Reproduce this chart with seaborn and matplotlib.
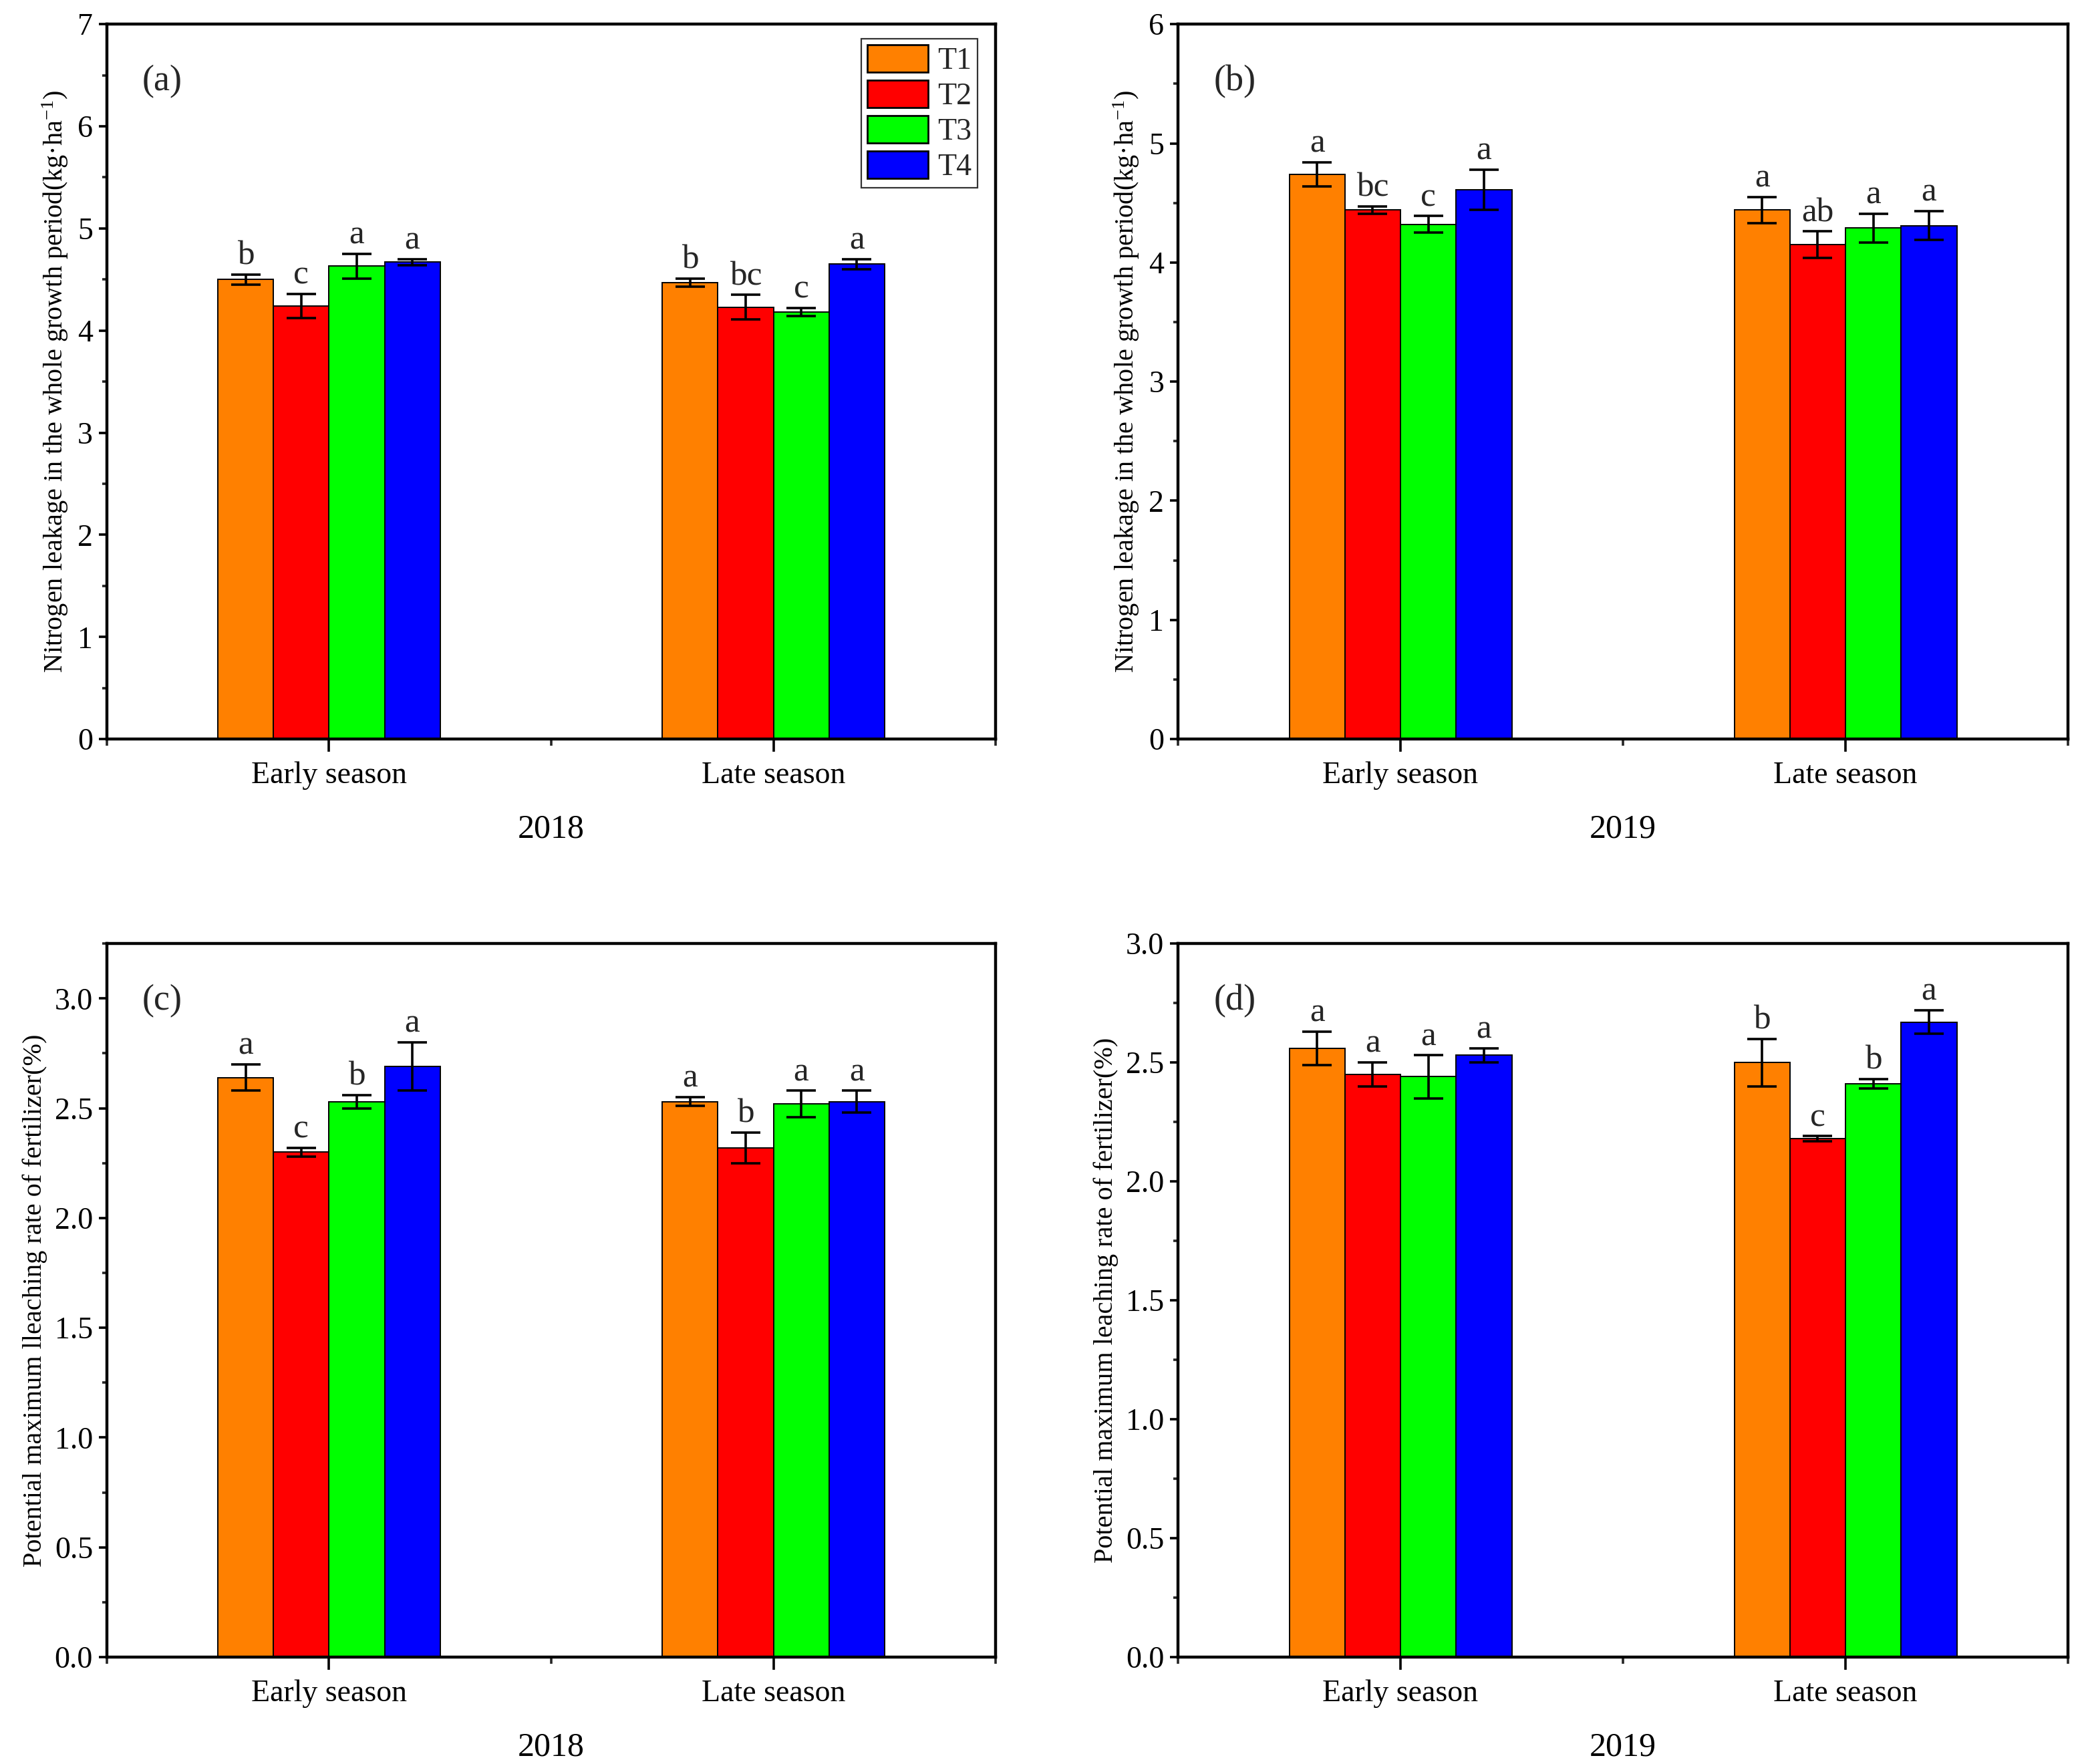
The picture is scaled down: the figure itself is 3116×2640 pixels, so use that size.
"""
Nitrogen leakage and potential maximum leaching rate, 2018 / 2019
grouped bars with error bars and significance letters
"""

import pandas as pd
import numpy as np
import matplotlib
matplotlib.use("Agg")
import matplotlib.pyplot as plt
from matplotlib.ticker import MultipleLocator, FixedLocator
import seaborn as sns

# Data
seasons = ["Early season", "Late season"]
treatments = ["T1", "T2", "T3", "T4"]
colors = ["#FF8000", "#FF0000", "#00FF00", "#0000FF"]

# (a) nitrogen leakage 2018
a_early = [4.50, 4.24, 4.63, 4.67]
a_late = [4.47, 4.23, 4.18, 4.65]
a_early_err = [0.05, 0.12, 0.12, 0.03]
a_late_err = [0.04, 0.12, 0.04, 0.05]
a_early_let = ["b", "c", "a", "a"]
a_late_let = ["b", "bc", "c", "a"]

# (b) nitrogen leakage 2019
b_early = [4.74, 4.44, 4.32, 4.61]
b_late = [4.44, 4.15, 4.29, 4.31]
b_early_err = [0.10, 0.03, 0.07, 0.17]
b_late_err = [0.11, 0.11, 0.12, 0.12]
b_early_let = ["a", "bc", "c", "a"]
b_late_let = ["a", "ab", "a", "a"]

# (c) leaching rate 2018
c_early = [2.64, 2.30, 2.53, 2.69]
c_late = [2.53, 2.32, 2.52, 2.53]
c_early_err = [0.06, 0.02, 0.03, 0.11]
c_late_err = [0.02, 0.07, 0.06, 0.05]
c_early_let = ["a", "c", "b", "a"]
c_late_let = ["a", "b", "a", "a"]

# (d) leaching rate 2019
d_early = [2.56, 2.45, 2.44, 2.53]
d_late = [2.50, 2.18, 2.41, 2.67]
d_early_err = [0.07, 0.05, 0.09, 0.03]
d_late_err = [0.10, 0.01, 0.02, 0.05]
d_early_let = ["a", "a", "a", "a"]
d_late_let = ["b", "c", "b", "a"]

n_label = r"Nitrogen leakage in the whole growth period(kg·ha$\mathregular{^{-1}}$)"
panels = [
    dict(tag="(a)", year="2018", ylabel=n_label, ylim=7, major=1, minor=0.5, fmt="%d",
         early=a_early, late=a_late, early_err=a_early_err, late_err=a_late_err,
         early_let=a_early_let, late_let=a_late_let, rect=[0.0513, 0.581, 0.4269, 0.4053], legend=True),
    dict(tag="(b)", year="2019", ylabel=n_label, ylim=6, major=1, minor=0.5, fmt="%d",
         early=b_early, late=b_late, early_err=b_early_err, late_err=b_late_err,
         early_let=b_early_let, late_let=b_late_let, rect=[0.5658, 0.581, 0.4275, 0.4053], legend=False),
    dict(tag="(c)", year="2018", ylabel="Potential maximum lleaching rate of fertilizer(%)",
         ylim=3.25, major=0.5, minor=0.25, fmt="%.1f",
         early=c_early, late=c_late, early_err=c_early_err, late_err=c_late_err,
         early_let=c_early_let, late_let=c_late_let, rect=[0.0513, 0.0606, 0.4269, 0.4045], legend=False),
    dict(tag="(d)", year="2019", ylabel="Potential maximum leaching rate of fertilizer(%)",
         ylim=3.0, major=0.5, minor=0.25, fmt="%.1f",
         early=d_early, late=d_late, early_err=d_early_err, late_err=d_late_err,
         early_let=d_early_let, late_let=d_late_let, rect=[0.5658, 0.0606, 0.4275, 0.4045], legend=False),
]

sns.set_theme(style="ticks")
plt.rcParams["font.family"] = ["Liberation Serif", "DejaVu Serif"]
plt.rcParams["mathtext.fontset"] = "custom"
plt.rcParams["mathtext.rm"] = "Liberation Serif"
plt.rcParams["mathtext.it"] = "Liberation Serif:italic"
plt.rcParams["axes.unicode_minus"] = True

fig = plt.figure(figsize=(15.58, 13.2), dpi=200)


def draw_panel(p):
    ax = fig.add_axes(p["rect"])
    df = pd.DataFrame({
        "season": np.repeat(seasons, len(treatments)),
        "treatment": treatments * len(seasons),
        "value": p["early"] + p["late"],
        "err": p["early_err"] + p["late_err"],
        "letter": p["early_let"] + p["late_let"],
    })
    sns.barplot(data=df, x="season", y="value", hue="treatment", order=seasons,
                hue_order=treatments, palette=colors, width=0.5, edgecolor="black",
                linewidth=0.7, saturation=1, errorbar=None, legend=p["legend"], ax=ax)

    # error bars + letters on top of each bar
    for t, cont in zip(treatments, ax.containers):
        sub = df[df["treatment"] == t].set_index("season").loc[seasons]
        for bar, (_, row) in zip(cont.patches, sub.iterrows()):
            xc = bar.get_x() + bar.get_width() / 2
            ax.errorbar(xc, row["value"], yerr=row["err"], fmt="none", ecolor="black",
                        elinewidth=1.3, capsize=8, capthick=1.3, zorder=5)
            ax.annotate(row["letter"], (xc, row["value"] + row["err"]), xytext=(0, 1.5),
                        textcoords="offset points", ha="center", va="bottom", fontsize=18.5)

    ax.set_xlim(-0.5, 1.5)
    ax.set_ylim(0, p["ylim"])
    ax.yaxis.set_major_locator(MultipleLocator(p["major"]))
    ax.yaxis.set_minor_locator(MultipleLocator(p["minor"]))
    ax.yaxis.set_major_formatter(matplotlib.ticker.FormatStrFormatter(p["fmt"]))
    ax.xaxis.set_minor_locator(FixedLocator([-0.5, 0.5, 1.5]))

    for s in ax.spines.values():
        s.set_visible(True)
        s.set_linewidth(1.6)
        s.set_color("black")
    ax.tick_params(axis="x", which="major", direction="out", length=7, width=1.3,
                   labelsize=16.5, pad=5, colors="black")
    ax.tick_params(axis="x", which="minor", direction="out", length=3.5, width=1.3)
    ax.tick_params(axis="y", which="major", direction="out", length=4.5, width=1.3,
                   labelsize=16.5, pad=3, colors="black")
    ax.tick_params(axis="y", which="minor", direction="out", length=2.5, width=1.3)
    ax.tick_params(top=False, right=False, which="both")

    ax.set_xlabel(p["year"], fontsize=18, labelpad=13, color="black")
    ax.set_ylabel(p["ylabel"], fontsize=14.5, color="black")
    ax.text(0.04, 0.92, p["tag"], transform=ax.transAxes, fontsize=19.5, ha="left", va="center")

    if p["legend"]:
        handles, labels = ax.get_legend_handles_labels()
        leg = ax.legend(handles, labels, loc="upper right", bbox_to_anchor=(0.98, 0.98),
                        borderaxespad=0, frameon=True, fancybox=False, edgecolor="black",
                        fontsize=16.5, handlelength=2.0, handleheight=1.0, labelspacing=0.15,
                        handletextpad=0.3, borderpad=0.2)
        leg.get_frame().set_linewidth(0.8)
        for h in leg.legend_handles:
            h.set_edgecolor("black")
            h.set_linewidth(1.0)
    return ax


for p in panels:
    draw_panel(p)

fig.savefig("out.png", dpi=200, facecolor="white")
